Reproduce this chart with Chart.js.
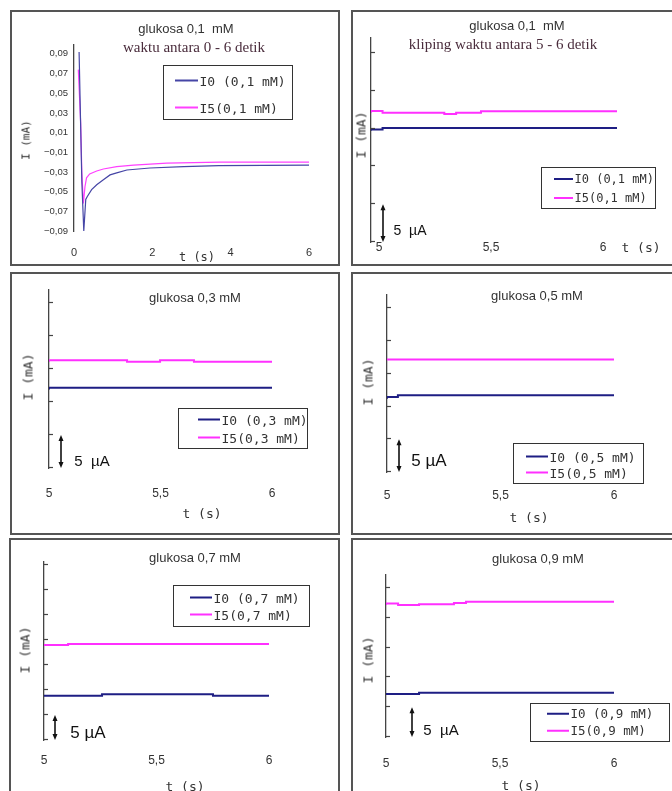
<!DOCTYPE html>
<html>
<head>
<meta charset="utf-8">
<script src="https://cdn.jsdelivr.net/npm/chart.js@4.4.1/dist/chart.umd.min.js"></script>
<style>
html,body{margin:0;padding:0;background:#fff;}
#page{position:relative;width:672px;height:791px;overflow:hidden;background:#fff;}
.panel{position:absolute;border:2px solid #555;box-sizing:border-box;}
.txt{position:absolute;white-space:pre;transform:translate(-50%,-50%);line-height:1;}
.ttl{font-family:"Liberation Sans",Arial,sans-serif;font-size:13px;color:#333;}
.sub{font-family:"Liberation Serif","Times New Roman",serif;font-size:15px;color:#4a2c3c;}
.ax{font-family:"DejaVu Sans Mono",monospace;font-size:12px;color:#333;}
.rot{transform:translate(-50%,-50%) rotate(-90deg);}
.bar{font-family:"Liberation Sans",Arial,sans-serif;color:#111;}
.leg{position:absolute;border:1.5px solid #333;box-sizing:border-box;}
.row{position:absolute;display:flex;align-items:center;font-family:"DejaVu Sans Mono",monospace;color:#333;white-space:pre;transform:translateY(-50%);line-height:1;}
.sw{display:inline-block;margin-right:2px;}
canvas{position:absolute;left:0;top:0;}
</style>
</head>
<body>
<div id="page"></div>
<script>
// ------------------------------------------------------------------ DATA
const seriesNames = ['I0', 'I5'];
const concentrations = ['0,1', '0,1', '0,3', '0,5', '0,7', '0,9'];
const panelTitles = ['glukosa 0,1  mM', 'glukosa 0,1  mM', 'glukosa 0,3 mM', 'glukosa 0,5 mM', 'glukosa 0,7 mM', 'glukosa 0,9 mM'];
const panelSubtitles = ['waktu antara 0 - 6 detik', 'kliping waktu antara 5 - 6 detik', '', '', '', ''];

const p1XTicks = [0, 2, 4, 6];
const p1YTicks = [-0.09, -0.07, -0.05, -0.03, -0.01, 0.01, 0.03, 0.05, 0.07, 0.09];
const clipXTicks = [5, 5.5, 6];
const scaleBarUA = 5;   // µA

// panel 1: whole record 0 - 6 s (mA)
const p1TimeI0 = [0.13, 0.20, 0.25, 0.30, 0.34, 0.45, 0.58, 0.75, 0.92, 1.09, 1.35, 1.94, 2.8, 3.7, 6.0];
const p1I0     = [0.092, -0.040, -0.090, -0.058, -0.055, -0.048, -0.043, -0.038, -0.033, -0.031, -0.028, -0.026, -0.0245, -0.0235, -0.023];
const p1TimeI5 = [0.11, 0.17, 0.20, 0.24, 0.28, 0.32, 0.40, 0.58, 0.75, 1.09, 1.52, 2.37, 3.73, 6.0];
const p1I5     = [0.074, 0.020, -0.030, -0.062, -0.045, -0.036, -0.032, -0.029, -0.027, -0.0245, -0.023, -0.021, -0.020, -0.020];

// panels 2-6: clipped 5 - 6 s, relative current in µA
const p2TimeI0 = [5.0, 5.047, 5.752, 6.0];
const p2I0     = [14.72, 14.90, 15.08, 15.08];
const p2TimeI5 = [5.0, 5.047, 5.298, 5.346, 5.447, 5.495, 6.0];
const p2I5     = [17.10, 17.33, 17.10, 16.93, 17.10, 17.29, 17.29];

const p3TimeI0 = [5.0, 5.242, 6.0];
const p3I0     = [11.92, 12.17, 12.17];
const p3TimeI5 = [5.0, 5.35, 5.498, 5.65, 5.753, 6.0];
const p3I5     = [16.10, 16.36, 16.10, 16.36, 16.10, 16.10];

const p4TimeI0 = [5.0, 5.048, 5.648, 6.0];
const p4I0     = [11.20, 11.47, 11.73, 11.73];
const p4TimeI5 = [5.0, 6.0];
const p4I5     = [17.20, 17.20];

const p5TimeI0 = [5.0, 5.258, 5.751, 5.858, 6.0];
const p5I0     = [8.66, 8.86, 9.14, 8.86, 8.86];
const p5TimeI5 = [5.0, 5.107, 5.751, 6.0];
const p5I5     = [18.80, 19.00, 19.20, 19.20];

const p6TimeI0 = [5.0, 5.145, 5.746, 6.0];
const p6I0     = [7.05, 7.21, 7.43, 7.43];
const p6TimeI5 = [5.0, 5.053, 5.145, 5.298, 5.351, 5.846, 6.0];
const p6I5     = [22.15, 22.43, 22.15, 22.30, 22.50, 22.70, 22.70];

// ------------------------------------------------------------------ STYLE / LAYOUT
const W = 672, H = 791;
const COLORS = ['#1e1e84', '#ff30ff'];
const page = document.getElementById('page');
const zip = (xs, ys) => xs.map((x, i) => ({x: x, y: ys[i]}));
const commaNum = v => String(Math.round(v * 1000) / 1000).replace('.', ',');

const layouts = [
  { box:[10,10,330,256], area:{l:74,t:45,r:309,b:231}, x:[0,6], y:[-0.09,0.099], xt:p1XTicks, yt:p1YTicks,
    data:[[p1TimeI0,p1I0],[p1TimeI5,p1I5]], lw:1.2, stepped:false, xpad:15, colors:['#4646a6','#ff40ff'],
    title:[186,28], sub:[194,47], ytitle:[26,140,11], ttitle:[197,257], bar:null,
    legend:{l:163,t:65,w:130,h:55,rows:[16,43],lx:12,ll:23,fs:13,sw:1.5} },
  { box:[351,10,330,256], area:{l:371,t:38,r:617,b:242}, x:[5,6], y:[0,27], xt:clipXTicks, labelRange:[4.9643,6.0625],
    data:[[p2TimeI0,p2I0],[p2TimeI5,p2I5]], lw:2, stepped:'after', xpad:-2,
    title:[517,25], sub:[503,44], ytitle:[361,135,13], ttitle:[641,247], bar:{x:383, tx:410, ty:230, fs:14, txt:'5  µA'},
    legend:{l:541,t:167,w:115,h:42,rows:[12,31],lx:13,ll:19,fs:12,sw:2} },
  { box:[10,272,330,263], area:{l:49,t:290,r:272,b:468}, x:[5,6], y:[0,27], xt:clipXTicks,
    data:[[p3TimeI0,p3I0],[p3TimeI5,p3I5]], lw:2, stepped:'after', xpad:18,
    title:[195,297], sub:null, ytitle:[28,377,13], ttitle:[202,513], bar:{x:61, tx:92, ty:460, fs:15, txt:'5  µA'},
    legend:{l:178,t:408,w:130,h:41,rows:[12,30],lx:20,ll:22,fs:13,sw:2} },
  { box:[351,272,330,263], area:{l:387,t:295,r:614,b:472}, x:[5,6], y:[0,27.06], xt:clipXTicks,
    data:[[p4TimeI0,p4I0],[p4TimeI5,p4I5]], lw:2, stepped:'after', xpad:16,
    title:[537,295], sub:null, ytitle:[368,382,13], ttitle:[529,517], bar:{x:399, tx:429, ty:460, fs:17, txt:'5 µA'},
    legend:{l:513,t:443,w:131,h:41,rows:[14,30],lx:13,ll:22,fs:13,sw:2} },
  { box:[9,538,331,262], area:{l:44,t:562,r:269,b:740}, x:[5,6], y:[0,35.6], xt:clipXTicks,
    data:[[p5TimeI0,p5I0],[p5TimeI5,p5I5]], lw:2, stepped:'after', xpad:13,
    title:[195,557], sub:null, ytitle:[25,650,13], ttitle:[185,786], bar:{x:55, tx:88, ty:732, fs:17, txt:'5 µA'},
    legend:{l:173,t:585,w:137,h:42,rows:[13,30],lx:17,ll:22,fs:13,sw:2} },
  { box:[351,538,330,262], area:{l:386,t:575,r:614,b:737}, x:[5,6], y:[0,27.2], xt:clipXTicks,
    data:[[p6TimeI0,p6I0],[p6TimeI5,p6I5]], lw:2, stepped:'after', xpad:19,
    title:[538,558], sub:null, ytitle:[368,660,13], ttitle:[521,785], bar:{x:412, tx:441, ty:729, fs:15, txt:'5  µA'},
    legend:{l:530,t:703,w:140,h:39,rows:[11,28],lx:17,ll:22,fs:12.5,sw:2} }
];

// plugin: inward tick marks on the y axis and the 5 µA scale bar, both from the y scale
const axisDecor = {
  id: 'axisDecor',
  afterDraw(chart, args, opts) {
    const ctx = chart.ctx, ys = chart.scales.y, x0 = chart.chartArea.left;
    ctx.save();
    if (opts.inwardTicks) {
      ctx.strokeStyle = '#444'; ctx.lineWidth = 1.2;
      ys.ticks.forEach(t => {
        const py = Math.round(ys.getPixelForValue(t.value)) - 0.5;
        ctx.beginPath(); ctx.moveTo(x0, py); ctx.lineTo(x0 + 4, py); ctx.stroke();
      });
    }
    if (opts.barX != null) {
      const yb = ys.getPixelForValue(0), yt = ys.getPixelForValue(scaleBarUA), bx = opts.barX;
      ctx.strokeStyle = '#111'; ctx.fillStyle = '#111'; ctx.lineWidth = 1.6;
      ctx.beginPath(); ctx.moveTo(bx, yt + 4); ctx.lineTo(bx, yb - 4); ctx.stroke();
      ctx.beginPath(); ctx.moveTo(bx, yt); ctx.lineTo(bx - 2.5, yt + 6); ctx.lineTo(bx + 2.5, yt + 6); ctx.closePath(); ctx.fill();
      ctx.beginPath(); ctx.moveTo(bx, yb); ctx.lineTo(bx - 2.5, yb - 6); ctx.lineTo(bx + 2.5, yb - 6); ctx.closePath(); ctx.fill();
    }
    ctx.restore();
  }
};

function addText(cls, txt, x, y, extra) {
  const d = document.createElement('div');
  d.className = 'txt ' + cls;
  d.textContent = txt;
  d.style.left = x + 'px'; d.style.top = y + 'px';
  if (extra) Object.assign(d.style, extra);
  page.appendChild(d);
  return d;
}

layouts.forEach((L, i) => {
  // panel frame
  const p = document.createElement('div');
  p.className = 'panel';
  Object.assign(p.style, {left: L.box[0] + 'px', top: L.box[1] + 'px', width: L.box[2] + 'px', height: L.box[3] + 'px'});
  page.appendChild(p);

  const cols = L.colors || COLORS;
  const canvas = document.createElement('canvas');
  canvas.width = W; canvas.height = H;
  page.appendChild(canvas);

  const isP1 = (i === 0);
  const xLabelTicks = {
    autoSkip: false, maxRotation: 0, padding: L.xpad, color: '#333',
    font: {family: 'Liberation Sans, Arial, sans-serif', size: isP1 ? 11 : 12},
    callback: v => commaNum(v)
  };
  const scales = {
    x: {
      type: 'linear', min: L.x[0], max: L.x[1],
      afterBuildTicks: s => { s.ticks = L.xt.map(v => ({value: v})); },
      afterFit: s => { s.height = L.labelRange ? 0 : H - L.area.b; s.paddingLeft = 0; s.paddingRight = 0; s.paddingTop = 0; s.paddingBottom = 0; },
      grid: {display: false, drawTicks: false}, border: {display: false},
      ticks: L.labelRange ? {display: false} : xLabelTicks
    },
    y: {
      type: 'linear', min: L.y[0], max: L.y[1],
      afterBuildTicks: s => {
        if (isP1) s.ticks = L.yt.map(v => ({value: v}));
        else { const t = []; for (let v = 0; v <= L.y[1] + 1e-9; v += scaleBarUA) t.push({value: v}); s.ticks = t; }
      },
      afterFit: s => { s.width = L.area.l; s.paddingTop = 0; s.paddingBottom = 0; s.paddingLeft = 0; s.paddingRight = 0; },
      grid: {display: false, drawTicks: false},
      border: {display: true, color: '#444', width: 1.3},
      ticks: { display: isP1, padding: 6, color: '#333',
               font: {family: 'Liberation Sans, Arial, sans-serif', size: 9.5},
               callback: v => (Math.round(v * 100) / 100).toFixed(2).replace('.', ',').replace('-', '\u2212') }
    }
  };
  if (L.labelRange) {
    // tick-label axis of the clipped plot (labels were placed slightly inside the data span)
    scales.xl = {
      type: 'linear', position: 'bottom', min: L.labelRange[0], max: L.labelRange[1],
      afterBuildTicks: s => { s.ticks = L.xt.map(v => ({value: v})); },
      afterFit: s => { s.height = H - L.area.b; s.paddingLeft = 0; s.paddingRight = 0; s.paddingTop = 0; s.paddingBottom = 0; },
      grid: {display: false, drawTicks: false}, border: {display: false},
      ticks: xLabelTicks
    };
  }

  new Chart(canvas, {
    type: 'line',
    data: {
      datasets: L.data.map((d, k) => ({
        label: seriesNames[k],
        data: zip(d[0], d[1]),
        borderColor: cols[k], backgroundColor: cols[k],
        borderWidth: L.lw, pointRadius: 0, tension: 0, fill: false,
        stepped: L.stepped, xAxisID: 'x', yAxisID: 'y'
      }))
    },
    options: {
      responsive: false, animation: false, devicePixelRatio: 1, events: [],
      layout: { padding: { left: 0, top: L.area.t, right: W - L.area.r, bottom: 0 } },
      plugins: { legend: {display: false}, title: {display: false}, tooltip: {enabled: false},
                 axisDecor: { inwardTicks: !isP1, barX: L.bar ? L.bar.x : null } },
      scales: scales
    },
    plugins: [axisDecor]
  });

  // texts
  addText('ttl', panelTitles[i], L.title[0], L.title[1]);
  if (L.sub) addText('sub', panelSubtitles[i], L.sub[0], L.sub[1]);
  addText('ax rot', 'I (mA)', L.ytitle[0], L.ytitle[1], {fontSize: L.ytitle[2] + 'px'});
  addText('ax', 't (s)', L.ttitle[0], L.ttitle[1], {fontSize: (isP1 ? 12 : 13) + 'px'});
  if (L.bar) addText('bar', L.bar.txt, L.bar.tx, L.bar.ty, {fontSize: L.bar.fs + 'px'});

  // legend built from the dataset names / colours
  const lg = L.legend;
  const box = document.createElement('div');
  box.className = 'leg';
  Object.assign(box.style, {left: lg.l + 'px', top: lg.t + 'px', width: lg.w + 'px', height: lg.h + 'px'});
  seriesNames.forEach((nm, k) => {
    const row = document.createElement('div');
    row.className = 'row';
    row.style.left = (lg.lx - 1.5) + 'px';
    row.style.top = (lg.rows[k] - 1.5) + 'px';
    row.style.fontSize = lg.fs + 'px';
    const sw = document.createElement('span');
    sw.className = 'sw';
    Object.assign(sw.style, {width: lg.ll + 'px', height: lg.sw + 'px', background: cols[k]});
    const tx = document.createElement('span');
    tx.textContent = nm + (k === 0 ? ' ' : '') + '(' + concentrations[i] + ' mM)';
    row.appendChild(sw); row.appendChild(tx);
    box.appendChild(row);
  });
  page.appendChild(box);
});
</script>
</body>
</html>
